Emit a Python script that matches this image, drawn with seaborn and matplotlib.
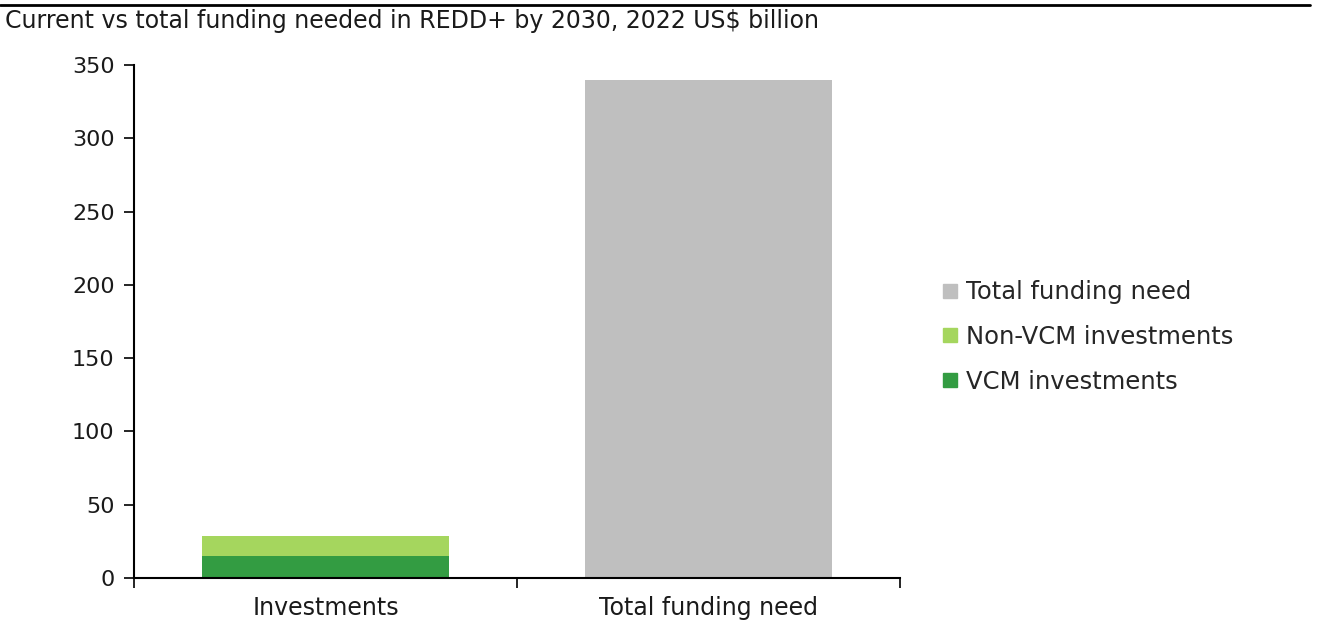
import matplotlib
matplotlib.use("Agg")
import matplotlib.pyplot as plt
from matplotlib.lines import Line2D
import seaborn as sns
import pandas as pd

# values, US$ billion
categories = ["Investments", "Total funding need"]
vcm = [15, 0]
non_vcm = [13.5, 0]
total_need = [0, 340]
series_names = ["Total funding need", "Non-VCM investments", "VCM investments"]
colors = {"Total funding need": "#bfbfbf", "Non-VCM investments": "#a5d65e", "VCM investments": "#339c42"}

sns.set_theme(style="white")
plt.rcParams['font.family'] = ['DejaVu Sans']

fig = plt.figure(figsize=(13.2, 6.22), dpi=100)
ax = fig.add_axes([134/1320, 1 - 578/622, (900-134)/1320, (578-65)/622])

# stacked: draw the cumulative (VCM + non-VCM) first, then VCM on top
df_back = pd.DataFrame({
    "category": categories,
    "value": [vcm[0] + non_vcm[0], total_need[1]],
    "series": ["Non-VCM investments", "Total funding need"],
})
sns.barplot(data=df_back, x="category", y="value", hue="series", palette=colors,
            order=categories, dodge=False, width=0.645, saturation=1, ax=ax, legend=False,
            linewidth=0)
df_front = pd.DataFrame({"category": categories[:1], "value": vcm[:1]})
sns.barplot(data=df_front, x="category", y="value", order=categories, color=colors["VCM investments"],
            width=0.645, saturation=1, ax=ax, linewidth=0)

ax.set_xlim(-0.5, 1.5)
ax.set_ylim(0, 350)
ax.set_yticks(range(0, 351, 50))
ax.set_xlabel("")
ax.set_ylabel("")
for s in ["top", "right"]:
    ax.spines[s].set_visible(False)
for s in ["left", "bottom"]:
    ax.spines[s].set_color("black")
    ax.spines[s].set_linewidth(1.5)
ax.tick_params(axis="y", left=True, direction="out", length=7, width=1.2, color="black", labelsize=16, pad=7)
ax.tick_params(axis="x", which="major", bottom=True, length=0, labelsize=17, pad=13)
ax.set_xticks([-0.5, 0.5, 1.5], minor=True)
ax.tick_params(axis="x", which="minor", bottom=True, direction="out", length=7, width=1.2, color="black")
for lbl in ax.get_xticklabels() + ax.get_yticklabels():
    lbl.set_color("#1a1a1a")

handles = [Line2D([0], [0], marker="s", linestyle="", markersize=10,
                  markerfacecolor=colors[n], markeredgecolor=colors[n]) for n in series_names]
fig.legend(handles, series_names, loc="center left", bbox_to_anchor=(914/1320, 1 - 337/622),
           frameon=False, fontsize=17.5, handletextpad=0.05, labelspacing=0.85, handlelength=1.2)

fig.add_artist(Line2D([0, 1310/1320], [1 - 5/622, 1 - 5/622], color="black", linewidth=2))
fig.text(5/1320, 1 - 21/622, "Current vs total funding needed in REDD+ by 2030, 2022 US$ billion",
         fontsize=17, va="center", ha="left", color="#1a1a1a")

fig.savefig("out.png", dpi=100)
